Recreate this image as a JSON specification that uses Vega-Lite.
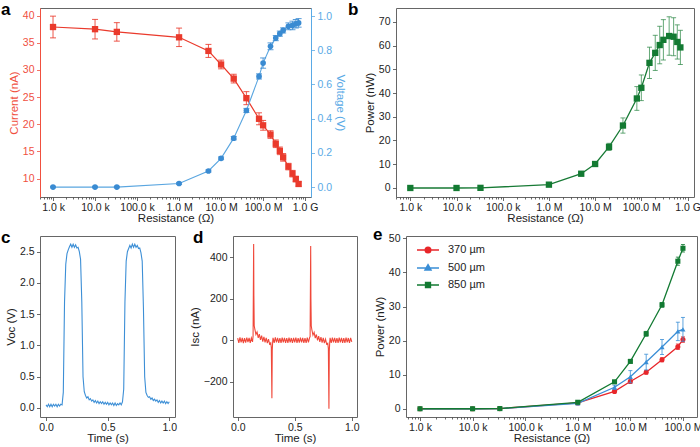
{
"$schema": "https://vega.github.io/schema/vega-lite/v6.json",
"padding": 0,
"background": "white",
"config": {
 "font": "Liberation Sans",
 "view": {"stroke": "#666666", "strokeWidth": 1},
 "axis": {"grid": false, "domain": false, "tickColor": "#444444", "tickSize": 3.5, "tickWidth": 0.8, "labelFontSize": 10.5, "labelColor": "#222222", "titleFontSize": 11.5, "titleFontWeight": "normal", "titleColor": "#222222"},
 "axisX": {"labelPadding": 1.5, "titlePadding": 0},
 "axisY": {"labelPadding": 2.5, "titlePadding": 3},
 "title": {"fontSize": 17, "fontWeight": "bold", "color": "#000000", "anchor": "start", "frame": "group", "offset": -11}
},
"datasets": {
 "ab": [
  {"R":1000,"I":37.9,"Ie":2.0,"V":0.0,"Ve":0.004,"P":0.0,"Pe":0.2},
  {"R":10000,"I":37.5,"Ie":1.8,"V":0.0,"Ve":0.004,"P":0.0,"Pe":0.2},
  {"R":33000,"I":37.0,"Ie":1.7,"V":0.0,"Ve":0.004,"P":0.05,"Pe":0.2},
  {"R":1000000,"I":36.0,"Ie":1.7,"V":0.021,"Ve":0.005,"P":1.4,"Pe":0.3},
  {"R":5000000,"I":33.5,"Ie":1.2,"V":0.094,"Ve":0.006,"P":6.0,"Pe":0.6},
  {"R":10000000,"I":31.0,"Ie":0.8,"V":0.168,"Ve":0.008,"P":10.1,"Pe":0.8},
  {"R":20000000,"I":28.4,"Ie":0.8,"V":0.286,"Ve":0.01,"P":17.3,"Pe":1.5},
  {"R":40000000,"I":24.8,"Ie":1.2,"V":0.448,"Ve":0.012,"P":26.3,"Pe":3.2},
  {"R":80000000,"I":21.0,"Ie":1.1,"V":0.647,"Ve":0.015,"P":37.7,"Pe":5.0},
  {"R":100000000,"I":19.8,"Ie":0.9,"V":0.725,"Ve":0.03,"P":42.2,"Pe":5.4},
  {"R":150000000,"I":18.1,"Ie":0.7,"V":0.823,"Ve":0.02,"P":52.7,"Pe":6.6},
  {"R":200000000,"I":16.4,"Ie":0.7,"V":0.871,"Ve":0.015,"P":56.9,"Pe":7.4},
  {"R":250000000,"I":15.1,"Ie":0.7,"V":0.897,"Ve":0.015,"P":60.2,"Pe":7.9},
  {"R":300000000,"I":13.9,"Ie":0.7,"V":0.916,"Ve":0.015,"P":62.4,"Pe":8.5},
  {"R":400000000,"I":12.2,"Ie":0.6,"V":0.94,"Ve":0.02,"P":64.0,"Pe":8.1},
  {"R":500000000,"I":10.9,"Ie":0.6,"V":0.945,"Ve":0.025,"P":63.7,"Pe":8.0},
  {"R":600000000,"I":9.9,"Ie":0.5,"V":0.955,"Ve":0.025,"P":61.5,"Pe":7.2},
  {"R":700000000,"I":9.0,"Ie":0.4,"V":0.96,"Ve":0.025,"P":59.2,"Pe":7.2}
 ],
 "c": [
  {"t":0.00,"v":0.05},{"t":0.01,"v":0.02},{"t":0.02,"v":0.06},{"t":0.03,"v":0.02},{"t":0.04,"v":0.06},{"t":0.05,"v":0.02},{"t":0.06,"v":0.06},{"t":0.07,"v":0.03},{"t":0.08,"v":0.06},{"t":0.09,"v":0.02},{"t":0.10,"v":0.06},{"t":0.11,"v":0.03},{"t":0.12,"v":0.06},{"t":0.13,"v":0.05},
  {"t":0.14,"v":0.25},{"t":0.15,"v":1.7},{"t":0.16,"v":2.3},{"t":0.17,"v":2.47},{"t":0.18,"v":2.53},{"t":0.19,"v":2.58},{"t":0.20,"v":2.62},{"t":0.21,"v":2.57},{"t":0.22,"v":2.62},{"t":0.23,"v":2.57},{"t":0.24,"v":2.61},{"t":0.25,"v":2.56},{"t":0.26,"v":2.57},{"t":0.27,"v":2.5},{"t":0.28,"v":2.38},{"t":0.29,"v":1.7},{"t":0.30,"v":0.5},
  {"t":0.31,"v":0.26},{"t":0.32,"v":0.2},{"t":0.33,"v":0.16},{"t":0.34,"v":0.18},{"t":0.35,"v":0.13},{"t":0.36,"v":0.15},{"t":0.37,"v":0.11},{"t":0.38,"v":0.13},{"t":0.39,"v":0.09},{"t":0.40,"v":0.12},{"t":0.41,"v":0.08},{"t":0.42,"v":0.11},{"t":0.43,"v":0.07},{"t":0.44,"v":0.1},{"t":0.45,"v":0.07},{"t":0.46,"v":0.1},{"t":0.47,"v":0.06},{"t":0.48,"v":0.09},{"t":0.49,"v":0.06},{"t":0.50,"v":0.09},{"t":0.51,"v":0.05},{"t":0.52,"v":0.08},{"t":0.53,"v":0.05},{"t":0.54,"v":0.08},{"t":0.55,"v":0.04},{"t":0.56,"v":0.08},{"t":0.57,"v":0.04},{"t":0.58,"v":0.07},{"t":0.59,"v":0.05},{"t":0.60,"v":0.08},{"t":0.61,"v":0.05},{"t":0.62,"v":0.1},
  {"t":0.63,"v":0.3},{"t":0.64,"v":1.7},{"t":0.65,"v":2.35},{"t":0.66,"v":2.5},{"t":0.67,"v":2.55},{"t":0.68,"v":2.6},{"t":0.69,"v":2.56},{"t":0.70,"v":2.62},{"t":0.71,"v":2.57},{"t":0.72,"v":2.62},{"t":0.73,"v":2.57},{"t":0.74,"v":2.6},{"t":0.75,"v":2.55},{"t":0.76,"v":2.56},{"t":0.77,"v":2.48},{"t":0.78,"v":2.35},{"t":0.79,"v":1.6},{"t":0.80,"v":0.5},
  {"t":0.81,"v":0.25},{"t":0.82,"v":0.2},{"t":0.83,"v":0.17},{"t":0.84,"v":0.18},{"t":0.85,"v":0.14},{"t":0.86,"v":0.16},{"t":0.87,"v":0.12},{"t":0.88,"v":0.14},{"t":0.89,"v":0.11},{"t":0.90,"v":0.13},{"t":0.91,"v":0.09},{"t":0.92,"v":0.12},{"t":0.93,"v":0.08},{"t":0.94,"v":0.11},{"t":0.95,"v":0.08},{"t":0.96,"v":0.11},{"t":0.97,"v":0.07},{"t":0.98,"v":0.1},{"t":0.99,"v":0.07},{"t":1.00,"v":0.1}
 ],
 "d": [
  {"t":0.00,"i":10},{"t":0.01,"i":-12},{"t":0.02,"i":14},{"t":0.03,"i":-10},{"t":0.04,"i":12},{"t":0.05,"i":-14},{"t":0.06,"i":10},{"t":0.07,"i":-11},{"t":0.08,"i":13},{"t":0.09,"i":-9},{"t":0.10,"i":12},{"t":0.11,"i":-13},{"t":0.12,"i":11},{"t":0.13,"i":-8},
  {"t":0.135,"i":20},{"t":0.14,"i":465},{"t":0.142,"i":215},{"t":0.145,"i":70},{"t":0.15,"i":55},{"t":0.16,"i":28},{"t":0.17,"i":40},{"t":0.18,"i":12},{"t":0.19,"i":30},{"t":0.20,"i":2},{"t":0.21,"i":22},{"t":0.22,"i":-6},{"t":0.23,"i":16},{"t":0.24,"i":-10},{"t":0.25,"i":12},{"t":0.26,"i":-14},{"t":0.27,"i":6},{"t":0.28,"i":-18},{"t":0.29,"i":-12},{"t":0.295,"i":-35},{"t":0.30,"i":-280},{"t":0.303,"i":-50},{"t":0.307,"i":-5},
  {"t":0.31,"i":12},{"t":0.32,"i":-12},{"t":0.33,"i":14},{"t":0.34,"i":-10},{"t":0.35,"i":12},{"t":0.36,"i":-13},{"t":0.37,"i":11},{"t":0.38,"i":-12},{"t":0.39,"i":13},{"t":0.40,"i":-10},{"t":0.41,"i":12},{"t":0.42,"i":-13},{"t":0.43,"i":10},{"t":0.44,"i":-12},{"t":0.45,"i":13},{"t":0.46,"i":-10},{"t":0.47,"i":11},{"t":0.48,"i":-13},{"t":0.49,"i":12},{"t":0.50,"i":-10},{"t":0.51,"i":13},{"t":0.52,"i":-12},{"t":0.53,"i":10},{"t":0.54,"i":-11},{"t":0.55,"i":13},{"t":0.56,"i":-10},{"t":0.57,"i":12},{"t":0.58,"i":-13},{"t":0.59,"i":11},{"t":0.60,"i":-12},{"t":0.61,"i":13},{"t":0.62,"i":-10},{"t":0.63,"i":12},
  {"t":0.635,"i":18},{"t":0.64,"i":455},{"t":0.642,"i":200},{"t":0.645,"i":70},{"t":0.65,"i":52},{"t":0.66,"i":25},{"t":0.67,"i":38},{"t":0.68,"i":10},{"t":0.69,"i":28},{"t":0.70,"i":0},{"t":0.71,"i":20},{"t":0.72,"i":-8},{"t":0.73,"i":15},{"t":0.74,"i":-11},{"t":0.75,"i":12},{"t":0.76,"i":-14},{"t":0.77,"i":5},{"t":0.78,"i":-18},{"t":0.79,"i":-14},{"t":0.795,"i":-40},{"t":0.80,"i":-330},{"t":0.803,"i":-55},{"t":0.807,"i":-6},
  {"t":0.81,"i":12},{"t":0.82,"i":-12},{"t":0.83,"i":13},{"t":0.84,"i":-10},{"t":0.85,"i":12},{"t":0.86,"i":-13},{"t":0.87,"i":11},{"t":0.88,"i":-12},{"t":0.89,"i":13},{"t":0.90,"i":-10},{"t":0.91,"i":12},{"t":0.92,"i":-13},{"t":0.93,"i":10},{"t":0.94,"i":-12},{"t":0.95,"i":13},{"t":0.96,"i":-10},{"t":0.97,"i":11},{"t":0.98,"i":-13},{"t":0.99,"i":12},{"t":1.00,"i":-8}
 ],
 "e": [
  {"R":1000,"P":0.0,"err":0.1,"s":"370 µm"},{"R":10000,"P":0.0,"err":0.1,"s":"370 µm"},{"R":33000,"P":0.05,"err":0.1,"s":"370 µm"},{"R":1000000,"P":1.7,"err":0.2,"s":"370 µm"},{"R":5000000,"P":5.1,"err":0.4,"s":"370 µm"},{"R":10000000,"P":8.0,"err":0.5,"s":"370 µm"},{"R":20000000,"P":10.7,"err":0.5,"s":"370 µm"},{"R":40000000,"P":14.4,"err":0.6,"s":"370 µm"},{"R":80000000,"P":18.2,"err":0.8,"s":"370 µm"},{"R":100000000,"P":20.3,"err":0.8,"s":"370 µm"},
  {"R":1000,"P":0.0,"err":0.1,"s":"500 µm"},{"R":10000,"P":0.0,"err":0.1,"s":"500 µm"},{"R":33000,"P":0.05,"err":0.1,"s":"500 µm"},{"R":1000000,"P":1.6,"err":0.2,"s":"500 µm"},{"R":5000000,"P":6.3,"err":0.6,"s":"500 µm"},{"R":10000000,"P":9.4,"err":1.8,"s":"500 µm"},{"R":20000000,"P":13.7,"err":2.3,"s":"500 µm"},{"R":40000000,"P":18.1,"err":2.2,"s":"500 µm"},{"R":80000000,"P":22.7,"err":2.7,"s":"500 µm"},{"R":100000000,"P":23.3,"err":3.5,"s":"500 µm"},
  {"R":1000,"P":0.0,"err":0.1,"s":"850 µm"},{"R":10000,"P":0.0,"err":0.1,"s":"850 µm"},{"R":33000,"P":0.05,"err":0.1,"s":"850 µm"},{"R":1000000,"P":1.9,"err":0.2,"s":"850 µm"},{"R":5000000,"P":7.9,"err":0.4,"s":"850 µm"},{"R":10000000,"P":13.9,"err":0.4,"s":"850 µm"},{"R":20000000,"P":22.0,"err":0.7,"s":"850 µm"},{"R":40000000,"P":30.5,"err":0.7,"s":"850 µm"},{"R":80000000,"P":43.3,"err":1.2,"s":"850 µm"},{"R":100000000,"P":47.1,"err":1.1,"s":"850 µm"}
 ]
},
"spacing": 0,
"resolve": {"scale": {"color": "independent", "fill": "independent", "stroke": "independent", "shape": "independent"}},
"vconcat": [
 {"hconcat": [
  {"width": 271, "height": 189,
   "title": {"text": "a", "dx": -39},
   "data": {"name": "ab"},
   "encoding": {"x": {"field": "R", "type": "quantitative", "scale": {"type": "log", "domain": [490, 1380000000], "nice": false}, "title": "Resistance (Ω)",
     "axis": {"values": [500,600,700,800,900,1000,2000,3000,4000,5000,6000,7000,8000,9000,10000,20000,30000,40000,50000,60000,70000,80000,90000,100000,200000,300000,400000,500000,600000,700000,800000,900000,1000000,2000000,3000000,4000000,5000000,6000000,7000000,8000000,9000000,10000000,20000000,30000000,40000000,50000000,60000000,70000000,80000000,90000000,100000000,200000000,300000000,400000000,500000000,600000000,700000000,800000000,900000000,1000000000],
      "labelOverlap": false, "labelFlush": false,
      "labelExpr": "datum.value==1000?'1.0 k':datum.value==10000?'10.0 k':datum.value==100000?'100.0 k':datum.value==1000000?'1.0 M':datum.value==10000000?'10.0 M':datum.value==100000000?'100.0 M':datum.value==1000000000?'1.0 G':''",
      "tickSize": {"condition": {"test": "indexof([1000,10000,100000,1000000,10000000,100000000,1000000000], datum.value) >= 0", "value": 3.5}, "value": 2}}}},
   "layer": [
    {"encoding": {"y": {"field": "I", "type": "quantitative", "scale": {"domain": [6.6, 41.4], "nice": false, "zero": false}, "title": "Current (nA)",
       "axis": {"orient": "left", "values": [10,15,20,25,30,35,40], "domain": true, "domainColor": "#f0503f", "labelColor": "#f0503f", "titleColor": "#f0503f", "tickColor": "#f0503f"}}},
     "layer": [
      {"mark": {"type": "line", "color": "#ea3a2c", "strokeWidth": 1.2}},
      {"mark": {"type": "errorbar", "color": "#ea3a2c", "opacity": 0.85, "ticks": {"size": 6}}, "encoding": {"yError": {"field": "Ie"}}},
      {"mark": {"type": "square", "color": "#ea3a2c", "size": 40, "opacity": 1}}
     ]},
    {"encoding": {"y": {"field": "V", "type": "quantitative", "scale": {"domain": [-0.058, 1.047], "nice": false, "zero": false}, "title": "Voltage (V)",
       "axis": {"orient": "right", "values": [0,0.2,0.4,0.6,0.8,1.0], "format": ".1f", "domain": true, "domainColor": "#5aaae6", "labelColor": "#5aaae6", "titleColor": "#5aaae6", "tickColor": "#5aaae6"}}},
     "layer": [
      {"mark": {"type": "line", "color": "#5aa6e0", "strokeWidth": 1.1}},
      {"mark": {"type": "errorbar", "color": "#3a8bd2", "opacity": 0.85, "ticks": {"size": 6}}, "encoding": {"yError": {"field": "Ve"}}},
      {"mark": {"type": "circle", "color": "#3a8bd2", "size": 32, "opacity": 1}}
     ]}
   ],
   "resolve": {"scale": {"y": "independent"}}
  },
  {"width": 298, "height": 189,
   "title": {"text": "b", "dx": -48},
   "data": {"name": "ab"},
   "encoding": {"x": {"field": "R", "type": "quantitative", "scale": {"type": "log", "domain": [490, 1380000000], "nice": false}, "title": "Resistance (Ω)",
     "axis": {"values": [500,600,700,800,900,1000,2000,3000,4000,5000,6000,7000,8000,9000,10000,20000,30000,40000,50000,60000,70000,80000,90000,100000,200000,300000,400000,500000,600000,700000,800000,900000,1000000,2000000,3000000,4000000,5000000,6000000,7000000,8000000,9000000,10000000,20000000,30000000,40000000,50000000,60000000,70000000,80000000,90000000,100000000,200000000,300000000,400000000,500000000,600000000,700000000,800000000,900000000,1000000000],
      "labelOverlap": false, "labelFlush": false,
      "labelExpr": "datum.value==1000?'1.0 k':datum.value==10000?'10.0 k':datum.value==100000?'100.0 k':datum.value==1000000?'1.0 M':datum.value==10000000?'10.0 M':datum.value==100000000?'100.0 M':datum.value==1000000000?'1.0 G':''",
      "tickSize": {"condition": {"test": "indexof([1000,10000,100000,1000000,10000000,100000000,1000000000], datum.value) >= 0", "value": 3.5}, "value": 2}}},
    "y": {"field": "P", "type": "quantitative", "scale": {"domain": [-3.8, 75.8], "nice": false, "zero": false}, "title": "Power (nW)", "axis": {"values": [0,10,20,30,40,50,60,70]}}},
   "layer": [
    {"mark": {"type": "line", "color": "#177a35", "strokeWidth": 1.3}},
    {"mark": {"type": "errorbar", "color": "#2f8a48", "opacity": 0.75, "ticks": {"size": 5}}, "encoding": {"yError": {"field": "Pe"}}},
    {"mark": {"type": "square", "color": "#137a32", "size": 40, "opacity": 1}}
   ]
  }
 ], "spacing": 85, "bounds": "flush"},
 {"hconcat": [
  {"width": 135, "height": 181,
   "title": {"text": "c", "dx": -39},
   "data": {"name": "c"},
   "mark": {"type": "line", "color": "#3d8fd6", "strokeWidth": 1.1},
   "encoding": {
    "x": {"field": "t", "type": "quantitative", "scale": {"domain": [-0.049, 1.046], "nice": false, "zero": false}, "title": "Time (s)", "axis": {"values": [0, 0.5, 1], "format": ".1f"}},
    "y": {"field": "v", "type": "quantitative", "scale": {"domain": [-0.144, 2.751], "nice": false, "zero": false}, "title": "Voc (V)", "axis": {"values": [0, 0.5, 1, 1.5, 2, 2.5], "format": ".1f"}}}
  },
  {"hconcat": [
   {"width": 124, "height": 181,
    "title": {"text": "d", "dx": -40},
    "data": {"name": "d"},
    "mark": {"type": "line", "color": "#f0483a", "strokeWidth": 1.1},
    "encoding": {
     "x": {"field": "t", "type": "quantitative", "scale": {"domain": [-0.041, 1.046], "nice": false, "zero": false}, "title": "Time (s)", "axis": {"values": [0, 0.5, 1], "format": ".1f"}},
     "y": {"field": "i", "type": "quantitative", "scale": {"domain": [-370, 503], "nice": false, "zero": false}, "title": "Isc (nA)", "axis": {"values": [-200, 0, 200, 400]}}}
   },
   {"width": 291, "height": 181,
    "title": {"text": "e", "dx": -33},
    "data": {"name": "e"},
    "encoding": {
     "x": {"field": "R", "type": "quantitative", "scale": {"type": "log", "domain": [542, 185000000], "nice": false}, "title": "Resistance (Ω)",
      "axis": {"values": [600,700,800,900,1000,2000,3000,4000,5000,6000,7000,8000,9000,10000,20000,30000,40000,50000,60000,70000,80000,90000,100000,200000,300000,400000,500000,600000,700000,800000,900000,1000000,2000000,3000000,4000000,5000000,6000000,7000000,8000000,9000000,10000000,20000000,30000000,40000000,50000000,60000000,70000000,80000000,90000000,100000000],
       "labelOverlap": false, "labelFlush": false,
       "labelExpr": "datum.value==1000?'1.0 k':datum.value==10000?'10.0 k':datum.value==100000?'100.0 k':datum.value==1000000?'1.0 M':datum.value==10000000?'10.0 M':datum.value==100000000?'100.0 M':''",
       "tickSize": {"condition": {"test": "indexof([1000,10000,100000,1000000,10000000,100000000], datum.value) >= 0", "value": 3.5}, "value": 2}}},
     "y": {"field": "P", "type": "quantitative", "scale": {"domain": [-2.42, 50.7], "nice": false, "zero": false}, "title": "Power (nW)", "axis": {"values": [0,10,20,30,40,50]}}},
    "layer": [
     {"mark": {"type": "line", "strokeWidth": 1.3},
      "encoding": {"stroke": {"field": "s", "type": "nominal", "scale": {"domain": ["370 µm","500 µm","850 µm"], "range": ["#e8262a","#3a8ed6","#127a32"]},
        "legend": {"orient": "none", "legendX": 10, "legendY": 2, "title": null, "symbolType": "stroke", "symbolSize": 484, "symbolStrokeWidth": 1.5, "labelFontSize": 11, "labelColor": "#222222", "labelOffset": 8, "rowPadding": -9, "padding": 0,
         "encode": {"symbols": {"update": {
           "shape": {"signal": "datum.value=='370 µm'?'M-1,0L1,0M0.25,0A0.25,0.25,0,1,1,-0.25,0A0.25,0.25,0,1,1,0.25,0Z':datum.value=='500 µm'?'M-1,0L1,0M0,-0.3L0.27,0.18L-0.27,0.18Z':'M-1,0L1,0M-0.22,-0.22L0.22,-0.22L0.22,0.22L-0.22,0.22Z'"},
           "fill": {"signal": "datum.value=='370 µm'?'#e8262a':datum.value=='500 µm'?'#3a8ed6':'#127a32'"},
           "fillOpacity": {"value": 1}}}}}}}},
     {"transform": [{"filter": "datum.s=='370 µm'"}],
      "layer": [
       {"mark": {"type": "errorbar", "color": "#e8262a", "opacity": 0.8, "ticks": {"size": 4}}, "encoding": {"yError": {"field": "err"}}},
       {"mark": {"type": "point", "shape": "circle", "filled": true, "color": "#e8262a", "size": 26, "opacity": 1}}
      ]},
     {"transform": [{"filter": "datum.s=='500 µm'"}],
      "layer": [
       {"mark": {"type": "errorbar", "color": "#3a8ed6", "opacity": 0.8, "ticks": {"size": 4}}, "encoding": {"yError": {"field": "err"}}},
       {"mark": {"type": "point", "shape": "triangle-up", "filled": true, "color": "#3a8ed6", "size": 26, "opacity": 1}}
      ]},
     {"transform": [{"filter": "datum.s=='850 µm'"}],
      "layer": [
       {"mark": {"type": "errorbar", "color": "#127a32", "opacity": 0.8, "ticks": {"size": 4}}, "encoding": {"yError": {"field": "err"}}},
       {"mark": {"type": "point", "shape": "square", "filled": true, "color": "#127a32", "size": 26, "opacity": 1}}
      ]}
    ]
   }
  ], "spacing": 49, "bounds": "flush", "resolve": {"scale": {"color": "independent", "fill": "independent", "stroke": "independent", "shape": "independent"}}}
 ], "spacing": 58, "bounds": "flush", "resolve": {"scale": {"color": "independent", "fill": "independent", "stroke": "independent", "shape": "independent"}}}
]
}
